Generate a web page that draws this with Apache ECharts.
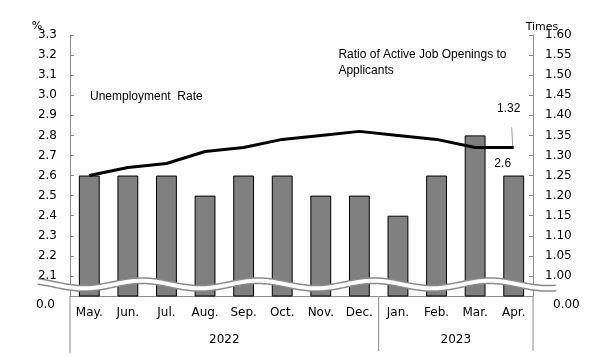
<!DOCTYPE html>
<html><head><meta charset="utf-8">
<script src="https://cdn.jsdelivr.net/npm/echarts@6/dist/echarts.min.js"></script>
<style>html,body{margin:0;padding:0;background:#fff}#c{width:606px;height:357px}</style>
</head><body><div id="c"></div>
<script>
const months = ['May.','Jun.','Jul.','Aug.','Sep.','Oct.','Nov.','Dec.','Jan.','Feb.','Mar.','Apr.'];
const years = ['2022','2023'];
const yearSpans = [8, 4];
const unemployment = [2.6,2.6,2.6,2.5,2.6,2.6,2.5,2.5,2.4,2.6,2.8,2.6];
const ratio = [1.25,1.27,1.28,1.31,1.32,1.34,1.35,1.36,1.35,1.34,1.32,1.32];
const leftMin = 2.0, leftMax = 3.3, leftStep = 0.1;
const rightMin = 0.95, rightMax = 1.60, rightStep = 0.05;
const leftZeroLabel = '0.0', rightZeroLabel = '0.00';
const unitLeft = '%', unitRight = 'Times';
const seriesNames = ['Unemployment  Rate', 'Ratio of Active Job Openings to\nApplicants'];

const FONT = 'DejaVu Sans';
const FONT2 = 'Liberation Sans';
const AX = '#8c8c8c';
const chart = echarts.init(document.getElementById('c'), null, {renderer: 'canvas'});
const G = {left: 70, right: 73, top: 35, bottom: 61};
chart.setOption({
  animation: false,
  grid: {left: G.left, right: G.right, top: G.top, bottom: G.bottom, containLabel: false},
  xAxis: {
    type: 'category', data: months,
    axisLine: {lineStyle: {color: AX}}, axisTick: {show: false},
    axisLabel: {color: '#000', fontFamily: FONT, fontSize: 12, margin: 11}
  },
  yAxis: [{
    type: 'value', min: leftMin, max: leftMax, interval: leftStep,
    splitLine: {show: false},
    axisLine: {show: true, lineStyle: {color: AX}},
    axisTick: {show: true, inside: true, length: 4, lineStyle: {color: AX}},
    axisLabel: {color: '#000', fontFamily: FONT, fontSize: 12, margin: 13,
      formatter: v => v < leftMin + leftStep / 2 ? '' : v.toFixed(1)}
  }, {
    type: 'value', min: rightMin, max: rightMax, interval: rightStep,
    splitLine: {show: false},
    axisLine: {show: true, lineStyle: {color: AX}},
    axisTick: {show: true, inside: true, length: 4, lineStyle: {color: AX}},
    axisLabel: {color: '#000', fontFamily: FONT, fontSize: 12, margin: 12,
      formatter: v => v < rightMin + rightStep / 2 ? '' : v.toFixed(2)}
  }],
  series: [{
    type: 'bar', data: unemployment, yAxisIndex: 0, barWidth: '54%',
    itemStyle: {color: '#808080', borderColor: '#000', borderWidth: 1},
    label: {show: true, position: 'top', distance: 6, offset: [-11, 0],
      color: '#000', fontFamily: FONT2, fontSize: 12,
      formatter: p => p.dataIndex === unemployment.length - 1 ? String(p.value) : ''}
  }, {
    type: 'line', data: ratio, yAxisIndex: 1, symbol: 'none', z: 5,
    lineStyle: {color: '#000', width: 3}
  }]
});

function draw() {
  const gfx = [];
  const last = months.length - 1;
  const x0 = chart.convertToPixel({xAxisIndex: 0}, months[0]);
  const x1 = chart.convertToPixel({xAxisIndex: 0}, months[1]);
  const band = x1 - x0;
  const left = x0 - band / 2;
  const right = chart.convertToPixel({xAxisIndex: 0}, months[last]) + band / 2;
  const bottom = chart.convertToPixel({yAxisIndex: 0}, leftMin);
  const top = chart.convertToPixel({yAxisIndex: 0}, leftMax);
  // broken axis wave
  const wy = chart.convertToPixel({yAxisIndex: 0}, leftMin + 0.057);
  const pts = [];
  const xs = left - 32, xe = right + 24, period = 116, amp = 3.8;
  for (let x = xs; x <= xe; x += 2) {
    pts.push([x, wy - amp * Math.cos(2 * Math.PI * (x - 142) / period)]);
  }
  gfx.push({type: 'polyline', shape: {points: pts}, style: {stroke: '#8a8a8a', lineWidth: 7, fill: null}, z: 100});
  gfx.push({type: 'polyline', shape: {points: pts}, style: {stroke: '#fff', lineWidth: 4, fill: null}, z: 101});
  // zero labels
  gfx.push({type: 'text', x: left - 15, y: bottom + 9, z: 102,
    style: {text: leftZeroLabel, font: '12px ' + FONT, fill: '#000', align: 'right', verticalAlign: 'middle'}});
  gfx.push({type: 'text', x: right + 20, y: bottom + 9, z: 102,
    style: {text: rightZeroLabel, font: '12px ' + FONT, fill: '#000', align: 'left', verticalAlign: 'middle'}});
  // units
  gfx.push({type: 'text', x: left - 33, y: top - 9, style: {text: unitLeft, font: '11px ' + FONT, fill: '#000', align: 'center', verticalAlign: 'middle'}});
  gfx.push({type: 'text', x: right + 9, y: top - 8, style: {text: unitRight, font: '11px ' + FONT, fill: '#000', align: 'center', verticalAlign: 'middle'}});
  // separators & years
  const sepBottom = bottom + 55;
  gfx.push({type: 'line', shape: {x1: left, y1: bottom, x2: left, y2: sepBottom + 2}, style: {stroke: AX, lineWidth: 1}});
  let idx = 0, prev = left;
  years.forEach((yr, i) => {
    idx += yearSpans[i];
    const xb = chart.convertToPixel({xAxisIndex: 0}, months[idx - 1]) + band / 2;
    gfx.push({type: 'line', shape: {x1: xb, y1: bottom, x2: xb, y2: sepBottom}, style: {stroke: AX, lineWidth: 1}});
    gfx.push({type: 'text', x: (prev + xb) / 2, y: bottom + 44,
      style: {text: yr, font: '12px ' + FONT, fill: '#000', align: 'center', verticalAlign: 'middle'}});
    prev = xb;
  });
  // series annotations
  gfx.push({type: 'text', x: left + 20, y: chart.convertToPixel({yAxisIndex: 0}, 2.993),
    style: {text: seriesNames[0], font: '12px ' + FONT2, fill: '#000', align: 'left', verticalAlign: 'middle'}});
  const rx = chart.convertToPixel({xAxisIndex: 0}, months[7]) - 21;
  gfx.push({type: 'text', x: rx, y: chart.convertToPixel({yAxisIndex: 1}, 1.531),
    style: {text: seriesNames[1], font: '12px ' + FONT2, fill: '#000', align: 'left', verticalAlign: 'middle', lineHeight: 16}});
  // last ratio label with leader
  const lp = chart.convertToPixel({xAxisIndex: 0, yAxisIndex: 1}, [last, ratio[last]]);
  gfx.push({type: 'line', shape: {x1: lp[0] - 2, y1: lp[1] - 20, x2: lp[0] - 1, y2: lp[1] - 1}, style: {stroke: '#999', lineWidth: 1}});
  gfx.push({type: 'text', x: lp[0] - 5, y: lp[1] - 39,
    style: {text: ratio[last].toFixed(2), font: '12px ' + FONT2, fill: '#000', align: 'center', verticalAlign: 'middle'}});
  chart.setOption({graphic: gfx});
}
draw();
</script></body></html>
